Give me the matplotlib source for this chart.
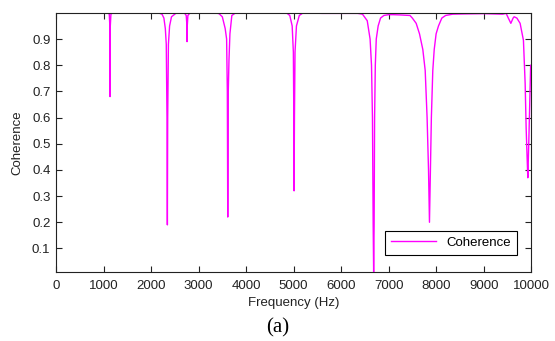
import numpy as np
import matplotlib.pyplot as plt

# coherence, point by point (Hz, coherence)
base_f = [0, 1000, 2000, 3000, 4200, 5600, 6200, 7100, 7250, 8600, 9000, 9400]
base_c = [1.0, 1.0, 1.0, 1.0, 1.0, 0.998, 0.998, 0.993, 0.992, 0.996, 0.997, 0.995]

dip1_f = [1090, 1120, 1132, 1137, 1142, 1155, 1190]
dip1_c = [1.0, 0.995, 0.95, 0.68, 0.95, 0.995, 1.0]

dip2_f = [2150, 2230, 2270, 2300, 2320, 2335, 2343, 2350, 2365, 2390, 2430, 2520, 2600]
dip2_c = [1.0, 0.995, 0.98, 0.94, 0.88, 0.6, 0.19, 0.6, 0.88, 0.95, 0.985, 0.998, 1.0]

dip3_f = [2700, 2740, 2755, 2758, 2762, 2775, 2820]
dip3_c = [1.0, 0.99, 0.95, 0.89, 0.95, 0.99, 1.0]

dip4_f = [3350, 3430, 3500, 3560, 3590, 3605, 3614, 3625, 3640, 3660, 3700, 3780]
dip4_c = [1.0, 0.997, 0.985, 0.94, 0.9, 0.7, 0.22, 0.7, 0.82, 0.92, 0.99, 1.0]

dip5_f = [4850, 4920, 4970, 4995, 5005, 5010, 5018, 5030, 5060, 5120, 5200]
dip5_c = [1.0, 0.99, 0.95, 0.85, 0.6, 0.32, 0.6, 0.85, 0.95, 0.99, 1.0]

dip6_f = [6350, 6450, 6550, 6610, 6640, 6660, 6675, 6685, 6695, 6705, 6720, 6740, 6780, 6830, 6900, 7000]
dip6_c = [0.998, 0.995, 0.97, 0.9, 0.8, 0.6, 0.19, 0.01, 0.19, 0.6, 0.8, 0.9, 0.95, 0.98, 0.99, 0.993]

dip7_f = [7450, 7500, 7580, 7650, 7720, 7770, 7810, 7840, 7860, 7880, 7900, 7930, 7960, 8000, 8050, 8120, 8200, 8350]
dip7_c = [0.99, 0.98, 0.96, 0.92, 0.86, 0.78, 0.6, 0.4, 0.2, 0.4, 0.6, 0.78, 0.86, 0.92, 0.95, 0.98, 0.99, 0.995]

dip8_f = [9474, 9520, 9573, 9620, 9642, 9700, 9768, 9838, 9874, 9895, 9915, 9930, 9950, 9970, 9990, 10000]
dip8_c = [0.998, 0.98, 0.96, 0.98, 0.985, 0.98, 0.96, 0.895, 0.73, 0.56, 0.45, 0.37, 0.5, 0.65, 0.8, 0.8]

freq = np.concatenate([base_f, dip1_f, dip2_f, dip3_f, dip4_f, dip5_f, dip6_f, dip7_f, dip8_f])
coh = np.concatenate([base_c, dip1_c, dip2_c, dip3_c, dip4_c, dip5_c, dip6_c, dip7_c, dip8_c])
order = np.argsort(freq, kind='stable')
freq, coh = freq[order], coh[order]

plt.rcParams['font.family'] = ['Liberation Sans', 'DejaVu Sans']

fig = plt.figure(figsize=(5.55, 3.41), dpi=100)
ax = fig.add_axes([0.101, 0.2023, 0.856, 0.760])
ax.plot(freq, coh, color='#ff00ff', lw=1.0, label='Coherence')

ax.set_xlim(0, 10000)
ax.set_ylim(0.01, 1.0)
ax.set_xticks(np.arange(0, 10001, 1000))
ax.set_yticks(np.arange(0.1, 0.91, 0.1))
ax.set_yticklabels(['0.1', '0.2', '0.3', '0.4', '0.5', '0.6', '0.7', '0.8', '0.9'])
ax.tick_params(direction='in', top=True, right=True, labelsize=9.5, length=4, width=0.8,
               colors='#222222', labelcolor='#222222')
ax.tick_params(axis='x', pad=6)
ax.tick_params(axis='y', pad=4)
for s in ax.spines.values():
    s.set_linewidth(0.8)
    s.set_color('#222222')
ax.set_xlabel('Frequency (Hz)', fontsize=9.5, labelpad=3, color='#222222')
ax.set_ylabel('Coherence', fontsize=9.5, labelpad=6, color='#222222')

leg = ax.legend(loc='lower right', fontsize=9.5, fancybox=False, framealpha=1,
                edgecolor='black', borderpad=0.45, handlelength=3.4,
                bbox_to_anchor=(0.985, 0.04))
leg.get_frame().set_linewidth(0.8)

fig.text(0.501, 0.04, '(a)', fontsize=15, family='Liberation Serif', ha='center', va='center')

fig.savefig('out.png', dpi=100)
